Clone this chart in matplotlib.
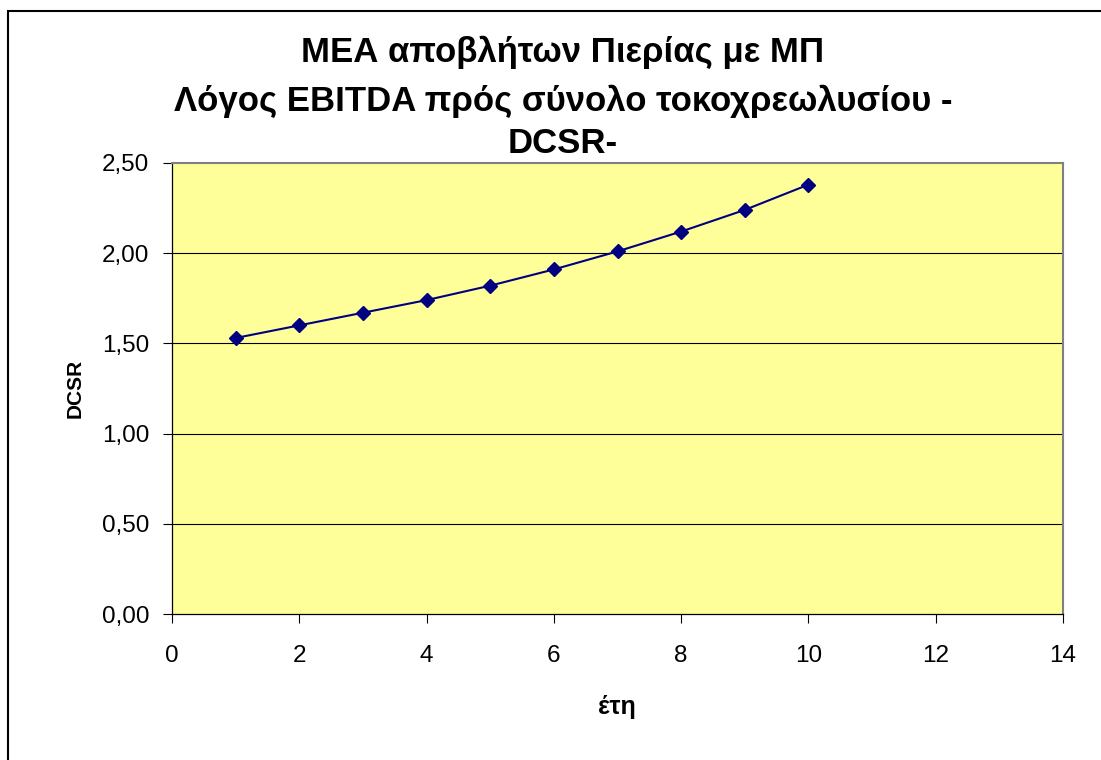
import matplotlib
matplotlib.use('Agg')
import matplotlib.pyplot as plt
from matplotlib.patches import Rectangle
from matplotlib.ticker import FuncFormatter

# ---------------------------------------------------------------------------
# Data
# ---------------------------------------------------------------------------
years = [1, 2, 3, 4, 5, 6, 7, 8, 9, 10]
dcsr = [1.53, 1.60, 1.67, 1.74, 1.82, 1.91, 2.01, 2.12, 2.24, 2.38]

title_lines = ['ΜΕΑ αποβλήτων Πιερίας με ΜΠ',
               'Λόγος EBITDA πρός σύνολο τοκοχρεωλυσίου -',
               'DCSR-']
xlabel = 'έτη'
ylabel = 'DCSR'

W, H = 1101, 760
plt.rcParams['font.family'] = ['Liberation Sans', 'DejaVu Sans']

fig = plt.figure(figsize=(W / 100, H / 100), dpi=100)
fig.patch.set_facecolor('white')

# outer chart border (runs off the right and bottom edges)
fig.add_artist(Rectangle((8 / W, -0.1), 1.2, 1 - 11 / H + 0.1,
                         transform=fig.transFigure, fill=False,
                         edgecolor='black', linewidth=1.5))

ax = fig.add_axes([172 / W, 1 - 614 / H, (1063 - 172) / W, (614 - 163) / H])
ax.set_facecolor('#FFFF99')

ax.plot(years, dcsr, color='#000080', linewidth=1.5, marker='D',
        markersize=7, markerfacecolor='#000080', markeredgecolor='#000080',
        zorder=3)

ax.set_xlim(0, 14)
ax.set_ylim(0, 2.5)
ax.set_xticks(range(0, 15, 2))
ax.set_yticks([0, 0.5, 1.0, 1.5, 2.0, 2.5])
ax.yaxis.set_major_formatter(FuncFormatter(lambda v, p: f'{v:.2f}'.replace('.', ',')))

for y in [0.5, 1.0, 1.5, 2.0]:
    ax.axhline(y, color='black', linewidth=0.8, zorder=1)

ax.tick_params(axis='both', direction='out', length=6.5, width=0.8,
               labelsize=17.5, colors='black')
ax.tick_params(axis='y', pad=10)
ax.tick_params(axis='x', pad=16)

for side in ['left', 'bottom']:
    ax.spines[side].set_color('black')
    ax.spines[side].set_linewidth(0.9)
for side in ['top', 'right']:
    ax.spines[side].set_color('#808080')
    ax.spines[side].set_linewidth(1.5)

# title, one baseline per line
for line, ypx in zip(title_lines, [62, 111, 153]):
    fig.text(563 / W, 1 - ypx / H, line, ha='center', va='baseline',
             fontsize=25, fontweight='bold')

fig.text(617 / W, 1 - 707 / H, xlabel, ha='center', va='center',
         fontsize=18, fontweight='bold')
fig.text(75 / W, 1 - 388 / H, ylabel, ha='center', va='center',
         rotation=90, fontsize=15, fontweight='bold')

fig.savefig('out.png', dpi=100)
